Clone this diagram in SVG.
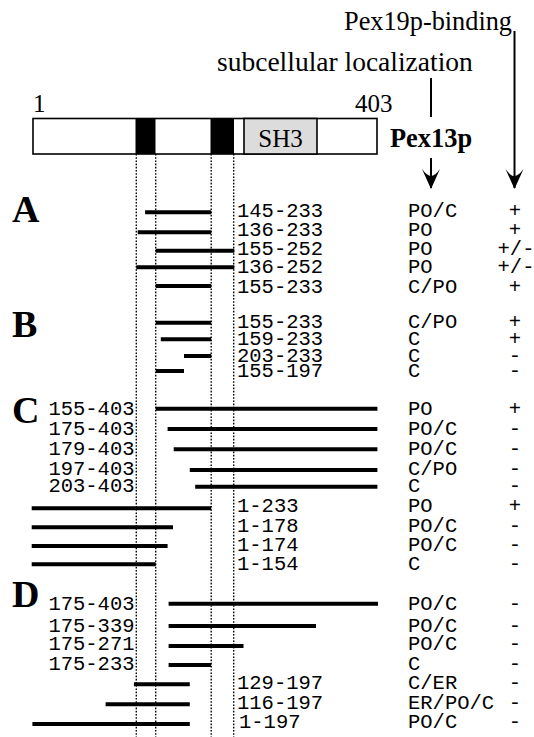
<svg xmlns="http://www.w3.org/2000/svg" width="534" height="737" viewBox="0 0 534 737">
<style>
.serif{font-family:"Liberation Serif","Times New Roman",serif;fill:#000}
.big{font-family:"Liberation Serif","Times New Roman",serif;font-weight:bold;font-size:38px;fill:#000}
.mono{font-family:"Liberation Mono","Courier New",monospace;font-size:20.5px;fill:#000}
.end{text-anchor:end}
.mid{text-anchor:middle}
.bar{stroke:#000;stroke-width:4;fill:none}
.dot{stroke:#000;stroke-width:1.4;stroke-dasharray:1.6 1.6;fill:none}
.ln{stroke:#000;stroke-width:2;fill:none}
</style>
<defs>
<marker id="ah" markerUnits="userSpaceOnUse" markerWidth="22" markerHeight="20" refX="20" refY="10" orient="auto" viewBox="0 0 22 20">
<path d="M21,10 L1,1 Q8,6 8,10 Q8,14 1,19 Z" fill="#000"/>
</marker>
</defs>
<rect width="534" height="737" fill="#fff"/>

<g id="headers">
<text class="serif" x="344" y="30" font-size="26.3">Pex19p-binding</text>
<text class="serif" x="217" y="71" font-size="27.5">subcellular localization</text>
</g>

<g id="protein">
<text class="serif" x="33" y="112" font-size="25">1</text>
<text class="serif" x="355" y="112" font-size="25">403</text>
<rect x="33" y="118.5" width="344" height="35.5" fill="#fff" stroke="#000" stroke-width="1.6"/>
<rect x="135.5" y="118.5" width="20" height="35.5" fill="#000"/>
<rect x="210.5" y="118.5" width="23.5" height="35.5" fill="#000"/>
<rect x="244" y="118.5" width="73" height="35.5" fill="#dcdcdc" stroke="#000" stroke-width="1.6"/>
<text class="serif mid" x="280.5" y="146.5" font-size="25">SH3</text>
<text class="serif" x="390" y="147" font-size="26.4" font-weight="bold">Pex13p</text>
</g>

<g id="connectors">
<line class="dot" x1="136.3" y1="154" x2="136.3" y2="737"/>
<line class="dot" x1="155.7" y1="154" x2="155.7" y2="737"/>
<line class="dot" x1="211.2" y1="154" x2="211.2" y2="737"/>
<line class="dot" x1="233.7" y1="154" x2="233.7" y2="737"/>
<line class="ln" x1="431" y1="78" x2="431" y2="117"/>
<line class="ln" x1="431" y1="158" x2="431" y2="188" marker-end="url(#ah)"/>
<line class="ln" x1="514.5" y1="31" x2="514.5" y2="188" marker-end="url(#ah)"/>
</g>

<g id="groupA">
<text class="big" x="12" y="221.7">A</text>
<line class="bar" x1="145.1" y1="212.3" x2="211.2" y2="212.3"/>
<line class="bar" x1="137.7" y1="232.3" x2="211.2" y2="232.3"/>
<line class="bar" x1="155.7" y1="250.7" x2="234.3" y2="250.7"/>
<line class="bar" x1="136.3" y1="267.3" x2="234.3" y2="267.3"/>
<line class="bar" x1="155.7" y1="286" x2="211.2" y2="286"/>
<text class="mono" x="237" y="216.7">145-233</text>
<text class="mono" x="237" y="236">136-233</text>
<text class="mono" x="237" y="255">155-252</text>
<text class="mono" x="237" y="273.3">136-252</text>
<text class="mono" x="237" y="293.3">155-233</text>
<text class="mono" x="408" y="216.7">PO/C</text>
<text class="mono" x="408" y="236">PO</text>
<text class="mono" x="408" y="255">PO</text>
<text class="mono" x="408" y="273.3">PO</text>
<text class="mono" x="408" y="293.3">C/PO</text>
<text class="mono mid" x="515" y="216.7">+</text>
<text class="mono mid" x="515" y="236">+</text>
<text class="mono mid" x="516" y="255">+/-</text>
<text class="mono mid" x="516" y="273.3">+/-</text>
<text class="mono mid" x="515" y="293.3">+</text>
</g>

<g id="groupB">
<text class="big" x="12" y="336.7">B</text>
<line class="bar" x1="155.7" y1="322.7" x2="211.2" y2="322.7"/>
<line class="bar" x1="160.8" y1="339.3" x2="211.2" y2="339.3"/>
<line class="bar" x1="184" y1="356" x2="211.2" y2="356"/>
<line class="bar" x1="155.7" y1="371" x2="184" y2="371"/>
<text class="mono" x="237" y="328.3">155-233</text>
<text class="mono" x="237" y="345">159-233</text>
<text class="mono" x="237" y="361.7">203-233</text>
<text class="mono" x="237" y="377.3">155-197</text>
<text class="mono" x="408" y="328.3">C/PO</text>
<text class="mono" x="408" y="345">C</text>
<text class="mono" x="408" y="361.7">C</text>
<text class="mono" x="408" y="377.3">C</text>
<text class="mono mid" x="515" y="328.3">+</text>
<text class="mono mid" x="515" y="345">+</text>
<text class="mono mid" x="515" y="361.7">-</text>
<text class="mono mid" x="515" y="377.3">-</text>
</g>

<g id="groupC">
<text class="big" x="12" y="423">C</text>
<line class="bar" x1="155.7" y1="408.7" x2="377.4" y2="408.7"/>
<line class="bar" x1="167.6" y1="429" x2="377.4" y2="429"/>
<line class="bar" x1="173.7" y1="449.3" x2="377.4" y2="449.3"/>
<line class="bar" x1="189.8" y1="470" x2="377.4" y2="470"/>
<line class="bar" x1="195.2" y1="486.7" x2="377.4" y2="486.7"/>
<line class="bar" x1="31.7" y1="508.3" x2="211.2" y2="508.3"/>
<line class="bar" x1="31.7" y1="527.3" x2="173" y2="527.3"/>
<line class="bar" x1="31.7" y1="546" x2="167.6" y2="546"/>
<line class="bar" x1="31.7" y1="564.3" x2="155.7" y2="564.3"/>
<text class="mono end" x="134.5" y="415">155-403</text>
<text class="mono end" x="134.5" y="435">175-403</text>
<text class="mono end" x="134.5" y="455">179-403</text>
<text class="mono end" x="134.5" y="475">197-403</text>
<text class="mono end" x="134.5" y="491.7">203-403</text>
<text class="mono" x="237" y="512.3">1-233</text>
<text class="mono" x="237" y="532.3">1-178</text>
<text class="mono" x="237" y="551">1-174</text>
<text class="mono" x="237" y="570">1-154</text>
<text class="mono" x="408" y="415">PO</text>
<text class="mono" x="408" y="435">PO/C</text>
<text class="mono" x="408" y="455">PO/C</text>
<text class="mono" x="408" y="475">C/PO</text>
<text class="mono" x="408" y="491.7">C</text>
<text class="mono" x="408" y="512.3">PO</text>
<text class="mono" x="408" y="532.3">PO/C</text>
<text class="mono" x="408" y="551">PO/C</text>
<text class="mono" x="408" y="570">C</text>
<text class="mono mid" x="515" y="415">+</text>
<text class="mono mid" x="515" y="435">-</text>
<text class="mono mid" x="515" y="455">-</text>
<text class="mono mid" x="515" y="475">-</text>
<text class="mono mid" x="515" y="491.7">-</text>
<text class="mono mid" x="515" y="512.3">+</text>
<text class="mono mid" x="515" y="532.3">-</text>
<text class="mono mid" x="515" y="551">-</text>
<text class="mono mid" x="515" y="570">-</text>
</g>

<g id="groupD">
<text class="big" x="12" y="606.7">D</text>
<line class="bar" x1="168.6" y1="603.7" x2="378" y2="603.7"/>
<line class="bar" x1="168.6" y1="626" x2="316" y2="626"/>
<line class="bar" x1="168.6" y1="646" x2="243.5" y2="646"/>
<line class="bar" x1="168.6" y1="665" x2="211.2" y2="665"/>
<line class="bar" x1="133.9" y1="684.3" x2="189.8" y2="684.3"/>
<line class="bar" x1="105.6" y1="704.3" x2="189.8" y2="704.3"/>
<line class="bar" x1="32.4" y1="724" x2="189.8" y2="724"/>
<text class="mono end" x="134.5" y="610">175-403</text>
<text class="mono end" x="134.5" y="631.7">175-339</text>
<text class="mono end" x="134.5" y="650">175-271</text>
<text class="mono end" x="134.5" y="670">175-233</text>
<text class="mono" x="237" y="689.3">129-197</text>
<text class="mono" x="237" y="709.3">116-197</text>
<text class="mono" x="239" y="728.3">1-197</text>
<text class="mono" x="408" y="610">PO/C</text>
<text class="mono" x="408" y="631.7">PO/C</text>
<text class="mono" x="408" y="650">PO/C</text>
<text class="mono" x="408" y="670">C</text>
<text class="mono" x="408" y="689.3">C/ER</text>
<text class="mono" x="408" y="709.3">ER/PO/C</text>
<text class="mono" x="408" y="728.3">PO/C</text>
<text class="mono mid" x="515" y="610">-</text>
<text class="mono mid" x="515" y="631.7">-</text>
<text class="mono mid" x="515" y="650">-</text>
<text class="mono mid" x="515" y="670">-</text>
<text class="mono mid" x="515" y="689.3">-</text>
<text class="mono mid" x="515" y="709.3">-</text>
<text class="mono mid" x="515" y="728.3">-</text>
</g>
</svg>
